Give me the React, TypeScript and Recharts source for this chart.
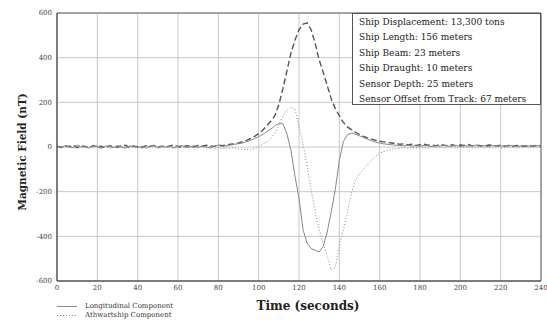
import React from 'react';
import { LineChart, Line, XAxis, YAxis, CartesianGrid, ReferenceArea } from 'recharts';

// time in seconds, every 2 s
const times = [
  0, 2, 4, 6, 8, 10, 12, 14, 16, 18, 20, 22, 24, 26, 28, 30, 32, 34, 36, 38,
  40, 42, 44, 46, 48, 50, 52, 54, 56, 58, 60, 62, 64, 66, 68, 70, 72, 74, 76, 78,
  80, 82, 84, 86, 88, 90, 92, 94, 96, 98, 100, 102, 104, 106, 108, 110, 112, 114, 116, 118,
  120, 122, 124, 126, 128, 130, 132, 134, 136, 138, 140, 142, 144, 146, 148, 150, 152, 154, 156, 158,
  160, 162, 164, 166, 168, 170, 172, 174, 176, 178, 180, 182, 184, 186, 188, 190, 192, 194, 196, 198,
  200, 202, 204, 206, 208, 210, 212, 214, 216, 218, 220, 222, 224, 226, 228, 230, 232, 234, 236, 238,
  240,
];

// Longitudinal component (nT)
const longitudinal = [
  2, -4, 6, 1, -3, 8, -2, 3, -5, 4, 0, -6, 5, 2, -3, 7, -1, -4, 3, 6,
  -2, 1, -5, 4, 8, -3, 2, -1, 5, -4, 3, 7, -2, 0, 6, -3, 4, 1, -5, 5,
  8, 2, 6, 9, 12, 15, 18, 24, 30, 38, 46, 56, 68, 80, 94, 105, 104, 60, -15, -130,
  -230, -370, -430, -455, -462, -470, -445, -380, -290, -190, -60, 25, 55, 62, 58, 50, 42, 35, 28, 22,
  18, 14, 12, 10, 8, 7, 5, 8, 4, 6, 3, 7, 5, 2, 6, 4, 8, 3, 5, 7,
  2, 6, 4, 5, 8, 3, 6, 2, 7, 4, 5, 3, 8, 6, 2, 5, 7, 4, 3, 6,
  5,
];

// Athwartship component (nT)
const athwartship = [
  -3, 5, -1, 4, -6, 2, 7, -4, 1, -2, 6, -5, 3, 0, -3, 5, 2, -6, 4, -1,
  -4, 6, 1, -3, 3, -5, 2, 5, -2, -6, 4, 0, -3, 2, -5, 3, -1, -4, 1, -6,
  -2, -8, -3, -6, -4, -8, -10, -12, -12, -6, 3, 12, 24, 40, 62, 98, 138, 165, 178, 170,
  95, 10, -80, -190, -290, -370, -430, -490, -550, -540, -440, -372, -295, -205, -150, -120, -98, -80, -60, -42,
  -28, -20, -14, -10, -7, -5, -3, -6, -1, -4, 0, -2, -5, 1, -3, -1, -4, 2, -2, -5,
  0, -3, 1, -4, -2, 0, -5, -1, -3, 2, -4, -2, 0, -3, -1, -5, 1, -2, -4, 0,
  -3,
];

// Vertical component (nT), dashed
const vertical = [
  4, -2, 6, 1, 8, -3, 5, 2, -4, 7, 0, 3, -5, 6, 2, -1, 5, 8, -2, 4,
  1, -3, 6, 3, 7, -1, 4, 0, 5, 9, 2, -2, 6, 3, 1, 7, 4, 8, 5, 3,
  9, 6, 10, 12, 14, 18, 24, 30, 38, 48, 60, 75, 95, 115, 140, 190, 260, 340, 420, 478,
  525, 550, 556, 525, 465, 390, 335, 275, 215, 172, 140, 110, 90, 78, 66, 56, 48, 41, 35, 30,
  26, 23, 20, 18, 16, 12, 14, 9, 12, 7, 10, 13, 8, 9, 6, 11, 8, 6, 10, 5,
  9, 7, 11, 5, 8, 6, 4, 9, 7, 5, 8, 4, 6, 3, 7, 5, 3, 6, 4, 8,
  5,
];

const xTicks = [0, 20, 40, 60, 80, 100, 120, 140, 160, 180, 200, 220, 240];
const yTicks = [-600, -400, -200, 0, 200, 400, 600];

const shipInfo = [
  'Ship Displacement: 13,300 tons',
  'Ship Length: 156 meters',
  'Ship Beam: 23 meters',
  'Ship Draught: 10 meters',
  'Sensor Depth: 25 meters',
  'Sensor Offset from Track: 67 meters',
];

const data = times.map((t, i) => ({
  t,
  lon: longitudinal[i],
  ath: athwartship[i],
  ver: vertical[i],
}));

const serif = '"DejaVu Serif", serif';
const tickStyle = { fontSize: 7, fill: '#444', fontFamily: serif };

export default function App() {
  return (
    <div style={{ position: 'relative', width: 547, height: 320, background: '#fff' }}>
      <style>{`body{margin:0}`}</style>
      <LineChart width={547} height={320} data={data} margin={{ top: 13, right: 6, bottom: 25, left: 0 }}>
        <CartesianGrid stroke="#c8c8c8" strokeWidth={1} />
        <XAxis
          dataKey="t"
          type="number"
          domain={[0, 240]}
          ticks={xTicks}
          tickLine={false}
          tickSize={0}
          tickMargin={4}
          height={14}
          axisLine={{ stroke: '#555' }}
          tick={tickStyle}
          interval={0}
        />
        <YAxis
          type="number"
          domain={[-600, 600]}
          ticks={yTicks}
          tickLine={false}
          tickSize={0}
          tickMargin={5}
          width={57}
          axisLine={{ stroke: '#555' }}
          tick={tickStyle}
          interval={0}
        />
        <ReferenceArea x1={0} x2={240} y1={-600} y2={600} fill="none" stroke="#666" strokeWidth={1} />
        <Line dataKey="ver" stroke="#555" strokeWidth={1.4} strokeDasharray="6 3" dot={false} isAnimationActive={false} />
        <Line dataKey="ath" stroke="#888" strokeWidth={1} strokeDasharray="1 2" dot={false} isAnimationActive={false} />
        <Line dataKey="lon" stroke="#888" strokeWidth={1} dot={false} isAnimationActive={false} />
      </LineChart>

      <div
        style={{
          position: 'absolute', left: 352, top: 13, width: 189, height: 92,
          border: '1px solid #555', background: '#fff', boxSizing: 'border-box',
          fontFamily: serif, fontSize: 9, color: '#222', padding: '1px 0 0 6px',
        }}
      >
        {shipInfo.map((s) => (
          <div key={s} style={{ whiteSpace: 'nowrap', height: 15.4, lineHeight: '15.4px' }}>{s}</div>
        ))}
      </div>

      <div
        style={{
          position: 'absolute', left: 22, top: 152, transform: 'translate(-50%, -50%) rotate(-90deg)',
          whiteSpace: 'nowrap', fontFamily: serif, fontWeight: 'bold', fontSize: 10.5, color: '#222',
        }}
      >
        Magnetic Field (nT)
      </div>

      <div
        style={{
          position: 'absolute', left: 308, top: 306, transform: 'translate(-50%, -50%)',
          whiteSpace: 'nowrap', fontFamily: serif, fontWeight: 'bold', fontSize: 12, color: '#222',
        }}
      >
        Time (seconds)
      </div>

      <div style={{ position: 'absolute', left: 57, top: 302, fontFamily: serif, fontSize: 7, color: '#333', lineHeight: '9px' }}>
        <div style={{ display: 'flex', alignItems: 'center' }}>
          <svg width={20} height={9}><line x1={0} y1={4.5} x2={20} y2={4.5} stroke="#888" strokeWidth={1} /></svg>
          <span style={{ marginLeft: 8 }}>Longitudinal Component</span>
        </div>
        <div style={{ display: 'flex', alignItems: 'center' }}>
          <svg width={20} height={9}><line x1={0} y1={4.5} x2={20} y2={4.5} stroke="#888" strokeWidth={1} strokeDasharray="1 2" /></svg>
          <span style={{ marginLeft: 8 }}>Athwartship Component</span>
        </div>
      </div>
    </div>
  );
}
